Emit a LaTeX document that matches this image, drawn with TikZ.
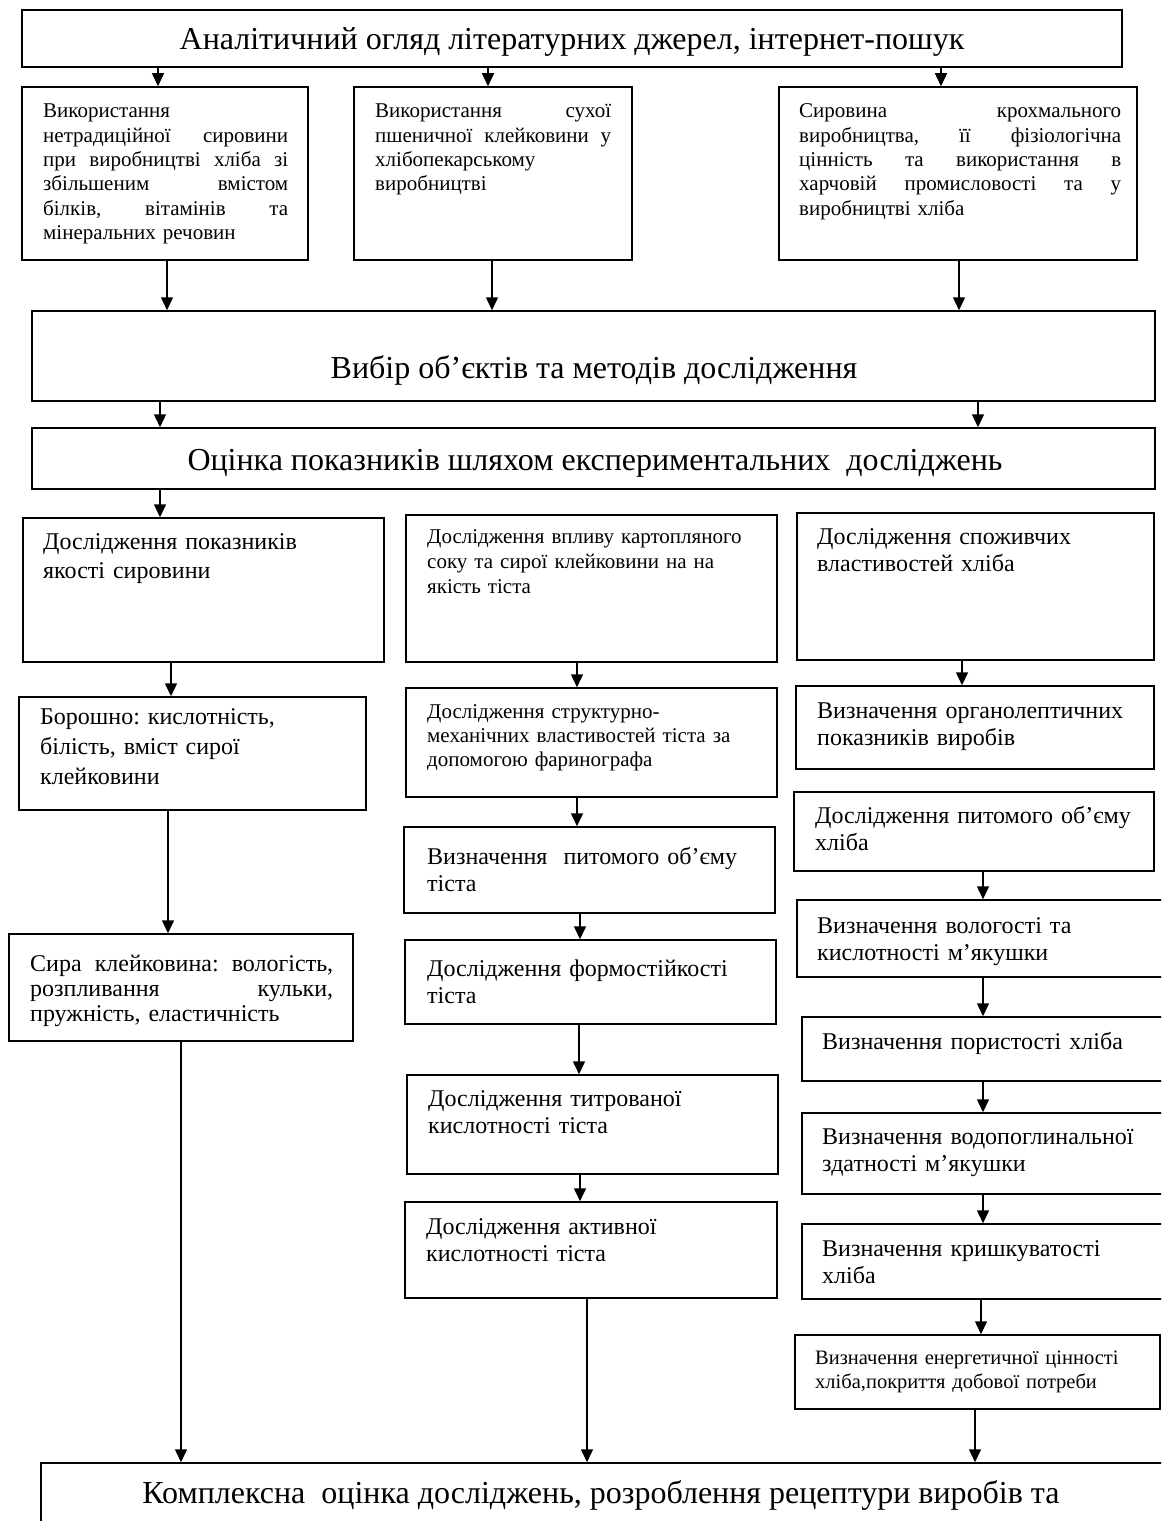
\documentclass[tikz,border=0pt]{standalone}
\usepackage{fontspec}
\setmainfont{Liberation Serif}
\usetikzlibrary{arrows.meta,fit}
\frenchspacing
\newcommand{\spread}[2]{\makebox[#1][s]{\spaceskip=0pt\relax #2}}

\begin{document}
\begin{tikzpicture}[x=1bp,y=-1bp,
    box/.style={draw=black, line width=1.5bp, inner sep=0pt},
    arr/.style={-{Triangle[length=13bp,width=12bp]}, line width=1.5bp},
    big/.style={font=\fontsize{32bp}{36bp}\selectfont, inner sep=0pt, anchor=base},
    txt/.style={font=\fontsize{24bp}{27.5bp}\selectfont, inner sep=0pt, anchor=base west, align=left, text width=340bp},
    sml/.style={font=\fontsize{21bp}{24.3bp}\selectfont, inner sep=0pt, anchor=base west, align=left, text width=350bp},
  ]
  \useasboundingbox (0,0) rectangle (1161,1521);
  \clip (0,0) rectangle (1161,1521);

  %top%
  \node[box, fit={(22,10) (1122,67)}] (title) {};
  \node[big] (titlet) at (572,50) {Аналітичний огляд літературних джерел, інтернет-пошук};

  %sources%
  \node[box, fit={(22,87) (308,260)}] (srca) {};
  \node[sml] (srcat) at (43,118) {Використання\\ \spread{245bp}{нетрадиційної сировини}\\ \spread{245bp}{при виробництві хліба зі}\\ \spread{245bp}{збільшеним вмістом}\\ \spread{245bp}{білків, вітамінів та}\\ мінеральних речовин};
  \node[box, fit={(354,87) (632,260)}] (srcb) {};
  \node[sml] (srcbt) at (375,118) {\spread{236bp}{Використання сухої}\\ \spread{236bp}{пшеничної клейковини у}\\ хлібопекарському\\ виробництві};
  \node[box, fit={(779,87) (1137,260)}] (srcc) {};
  \node[sml] (srcct) at (799,118) {\spread{322bp}{Сировина крохмального}\\ \spread{322bp}{виробництва, її фізіологічна}\\ \spread{322bp}{цінність та використання в}\\ \spread{322bp}{харчовій промисловості та у}\\ виробництві хліба};

  \draw[arr] (158,0 |- title.south) -- (158,0 |- srca.north);
  \draw[arr] (488,0 |- title.south) -- (488,0 |- srcb.north);
  \draw[arr] (941,0 |- title.south) -- (941,0 |- srcc.north);

  %choice%
  \node[box, fit={(32,311) (1155,401)}] (choice) {};
  \node[big] (choicet) at (594,378) {Вибір об’єктів та методів дослідження};
  \draw[arr] (167,0 |- srca.south) -- (167,0 |- choice.north);
  \draw[arr] (492,0 |- srcb.south) -- (492,0 |- choice.north);
  \draw[arr] (959,0 |- srcc.south) -- (959,0 |- choice.north);

  \node[box, fit={(32,428) (1155,489)}] (eval) {};
  \node[big] (evalt) at (595,470) {Оцінка показників шляхом експериментальних\ \ досліджень};
  \draw[arr] (160,0 |- choice.south) -- (160,0 |- eval.north);
  \draw[arr] (978,0 |- choice.south) -- (978,0 |- eval.north);

  %column 1%
  \node[box, fit={(23,518) (384,662)}] (raw) {};
  \node[txt, font=\fontsize{24bp}{29bp}\selectfont] (rawt) at (43,549) {Дослідження показників\\ якості сировини};
  \node[box, fit={(19,697) (366,810)}] (flour) {};
  \node[txt, font=\fontsize{24bp}{30bp}\selectfont] (flourt) at (40,724) {Борошно: кислотність,\\ білість, вміст сирої\\ клейковини};
  \node[box, fit={(9,934) (353,1041)}] (glut) {};
  \node[txt, font=\fontsize{24bp}{25bp}\selectfont] (glutt) at (30,971) {\spread{303bp}{Сира клейковина: вологість,}\\ \spread{303bp}{розпливання кульки,}\\ пружність, еластичність};
  \draw[arr] (160,0 |- eval.south) -- (160,0 |- raw.north);
  \draw[arr] (171,0 |- raw.south) -- (171,0 |- flour.north);
  \draw[arr] (168,0 |- flour.south) -- (168,0 |- glut.north);

  %column 2%
  \node[box, fit={(406,515) (777,662)}] (dough) {};
  \node[sml, font=\fontsize{21bp}{25bp}\selectfont] (dought) at (427,543) {Дослідження впливу картопляного\\ соку та сирої клейковини на на\\ якість тіста};
  \node[box, fit={(406,688) (777,797)}] (rheo) {};
  \node[sml, font=\fontsize{21bp}{24bp}\selectfont] (rheot) at (427,718) {Дослідження структурно-\\ механічних властивостей тіста за\\ допомогою фаринографа};
  \node[box, fit={(404,827) (775,913)}] (dvol) {};
  \node[txt] (dvolt) at (427,864) {Визначення\ \ питомого об’єму\\ тіста};
  \node[box, fit={(405,940) (776,1024)}] (shape) {};
  \node[txt] (shapet) at (427,976) {Дослідження формостійкості\\ тіста};
  \node[box, fit={(407,1075) (778,1174)}] (titr) {};
  \node[txt] (titrt) at (428,1106) {Дослідження титрованої\\ кислотності тіста};
  \node[box, fit={(405,1202) (777,1298)}] (act) {};
  \node[txt] (actt) at (426,1234) {Дослідження активної\\ кислотності тіста};
  \draw[arr] (577,0 |- dough.south) -- (577,0 |- rheo.north);
  \draw[arr] (577,0 |- rheo.south) -- (577,0 |- dvol.north);
  \draw[arr] (580,0 |- dvol.south) -- (580,0 |- shape.north);
  \draw[arr] (579,0 |- shape.south) -- (579,0 |- titr.north);
  \draw[arr] (580,0 |- titr.south) -- (580,0 |- act.north);

  %column 3%
  \node[box, fit={(797,513) (1154,660)}] (cons) {};
  \node[txt] (const) at (817,544) {Дослідження споживчих\\ властивостей хліба};
  \node[box, fit={(796,686) (1154,769)}] (org) {};
  \node[txt] (orgt) at (817,718) {Визначення органолептичних\\ показників виробів};
  \node[box, fit={(794,792) (1154,871)}] (bvol) {};
  \node[txt] (bvolt) at (815,823) {Дослідження питомого об’єму\\ хліба};
  \node[box, fit={(797,900) (1175,977)}] (moist) {};
  \node[txt] (moistt) at (817,933) {Визначення вологості та\\ кислотності м’якушки};
  \node[box, fit={(802,1017) (1175,1081)}] (por) {};
  \node[txt] (port) at (822,1049) {Визначення пористості хліба};
  \node[box, fit={(802,1113) (1175,1194)}] (water) {};
  \node[txt] (watert) at (822,1144) {Визначення водопоглинальної\\ здатності м’якушки};
  \node[box, fit={(802,1224) (1175,1299)}] (crumb) {};
  \node[txt] (crumbt) at (822,1256) {Визначення кришкуватості\\ хліба};
  \node[box, fit={(795,1335) (1160,1409)}] (energy) {};
  \node[sml, font=\fontsize{20.5bp}{24bp}\selectfont] (energyt) at (815,1364) {Визначення енергетичної цінності\\ хліба,покриття добової потреби};
  \draw[arr] (962,0 |- cons.south) -- (962,0 |- org.north);
  \draw[arr] (983,0 |- bvol.south) -- (983,0 |- moist.north);
  \draw[arr] (983,0 |- moist.south) -- (983,0 |- por.north);
  \draw[arr] (983,0 |- por.south) -- (983,0 |- water.north);
  \draw[arr] (983,0 |- water.south) -- (983,0 |- crumb.north);
  \draw[arr] (981,0 |- crumb.south) -- (981,0 |- energy.north);

  %bottom%
  \node[box, fit={(41,1463) (1180,1540)}] (total) {};
  \node[big] (totalt) at (601,1503) {Комплексна\ \ оцінка досліджень, розроблення рецептури виробів та};
  \draw[arr] (181,0 |- glut.south) -- (181,0 |- total.north);
  \draw[arr] (587,0 |- act.south) -- (587,0 |- total.north);
  \draw[arr] (975,0 |- energy.south) -- (975,0 |- total.north);
\end{tikzpicture}
\end{document}
